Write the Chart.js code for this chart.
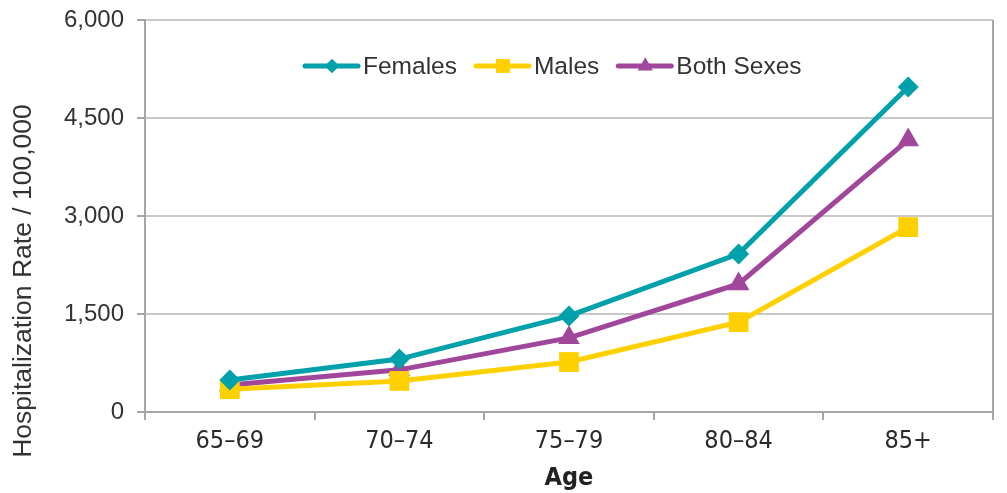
<!DOCTYPE html>
<html>
<head>
<meta charset="utf-8">
<script src="https://cdn.jsdelivr.net/npm/chart.js@4/dist/chart.umd.min.js"></script>
<style>
  body { margin: 0; background: #fff; }
  #wrap { width: 1007px; height: 493px; }
</style>
</head>
<body>
<div id="wrap"><canvas id="ratechart" width="1007" height="493"></canvas></div>
<script>
const ageGroups = ['65\u201369', '70\u201374', '75\u201379', '80\u201384', '85+'];
const females = [490, 810, 1470, 2420, 4975];
const males = [350, 475, 765, 1375, 2830];
const bothSexes = [415, 645, 1135, 1960, 4165];
const yTicks = [0, 1500, 3000, 4500, 6000];
const yTitle = 'Hospitalization Rate / 100,000';

const narrowFont = "'Liberation Sans Narrow', 'DejaVu Sans Condensed', 'Liberation Sans', sans-serif";
const plainFont = "'Liberation Sans', Arial, sans-serif";

// legend drawn inside the plot area, like the original
const innerLegend = {
  id: 'innerLegend',
  afterDraw(chart) {
    const ctx = chart.ctx;
    const y = 66;
    let x = 305;
    ctx.save();
    ctx.font = '24.5px ' + plainFont;
    ctx.textBaseline = 'middle';
    chart.data.datasets.forEach(ds => {
      ctx.strokeStyle = ds.borderColor;
      ctx.lineWidth = 5;
      ctx.lineCap = 'round';
      ctx.beginPath();
      ctx.moveTo(x, y);
      ctx.lineTo(x + 53, y);
      ctx.stroke();
      ctx.fillStyle = ds.borderColor;
      Chart.helpers.drawPoint(ctx, {
        pointStyle: ds.pointStyle,
        radius: ds.pointRadius * 0.7,
        rotation: 0,
        borderWidth: 0
      }, x + 27, y);
      ctx.fillStyle = '#333';
      ctx.fillText(ds.label, x + 58, y + 1);
      x += 58 + ctx.measureText(ds.label).width + 19;
    });
    ctx.restore();
  }
};

// right border of the plot + y title (sits lower than the axis centre in the original)
const frameBits = {
  id: 'frameBits',
  beforeDatasetsDraw(chart) {
    const ctx = chart.ctx;
    const a = chart.chartArea;
    ctx.save();
    ctx.strokeStyle = '#a6a6a6';
    ctx.lineWidth = 2;
    ctx.beginPath();
    ctx.moveTo(a.right, a.top);
    ctx.lineTo(a.right, a.bottom);
    ctx.stroke();
    ctx.restore();
  },
  afterDraw(chart) {
    const ctx = chart.ctx;
    ctx.save();
    ctx.translate(24, 281);
    ctx.rotate(-Math.PI / 2);
    ctx.font = '26.5px ' + plainFont;
    ctx.fillStyle = '#333';
    ctx.textAlign = 'center';
    ctx.textBaseline = 'middle';
    ctx.fillText(yTitle, 0, 0);
    ctx.restore();
  }
};

const ctxr = document.getElementById('ratechart').getContext('2d');
const ratechart = new Chart(ctxr, {
  type: 'line',
  data: {
    labels: ageGroups,
    datasets: [
      {
        label: 'Females',
        data: females,
        borderColor: '#00a1ab',
        backgroundColor: '#00a1ab',
        borderWidth: 5,
        pointStyle: 'rectRot',
        pointRadius: 10.5,
        pointHoverRadius: 10.5,
        pointBorderWidth: 0
      },
      {
        label: 'Males',
        data: males,
        borderColor: '#ffd000',
        backgroundColor: '#ffd000',
        borderWidth: 5,
        pointStyle: 'rect',
        pointRadius: 14,
        pointHoverRadius: 14,
        pointBorderWidth: 0
      },
      {
        label: 'Both Sexes',
        data: bothSexes,
        borderColor: '#a0469b',
        backgroundColor: '#a0469b',
        borderWidth: 5,
        pointStyle: 'triangle',
        pointRadius: 12.5,
        pointHoverRadius: 12.5,
        pointBorderWidth: 0
      }
    ]
  },
  options: {
    responsive: false,
    animation: false,
    layout: {
      padding: { top: 20, right: 7, bottom: 0, left: 0 }
    },
    plugins: {
      legend: { display: false },
      tooltip: { enabled: false }
    },
    scales: {
      x: {
        offset: true,
        grid: {
          offset: true,
          drawOnChartArea: false,
          drawTicks: true,
          tickLength: 8,
          color: '#a6a6a6',
          lineWidth: 2
        },
        border: { color: '#a6a6a6', width: 2 },
        ticks: {
          color: '#2a2a2a',
          padding: 6,
          font: { family: narrowFont, size: 25 }
        },
        title: {
          display: true,
          text: 'Age',
          color: '#222',
          padding: { top: 0, bottom: 0 },
          font: { family: narrowFont, size: 25, weight: 'bold' }
        },
        afterFit(scale) {
          scale.height = 81;
          scale.paddingLeft = 0;
          scale.paddingRight = 0;
        }
      },
      y: {
        min: 0,
        max: 6000,
        afterBuildTicks(scale) {
          scale.ticks = yTicks.map(v => ({ value: v }));
        },
        grid: {
          color: '#c8c8c8',
          lineWidth: 2,
          tickLength: 8,
          tickColor: '#a6a6a6'
        },
        border: { color: '#a6a6a6', width: 2 },
        ticks: {
          color: '#333',
          padding: 13,
          font: { family: plainFont, size: 24 },
          callback: v => v.toLocaleString('en-US')
        },
        title: { display: false },
        afterFit(scale) {
          scale.width = 145;
          scale.paddingTop = 0;
          scale.paddingBottom = 0;
        }
      }
    }
  },
  plugins: [innerLegend, frameBits]
});
</script>
</body>
</html>
